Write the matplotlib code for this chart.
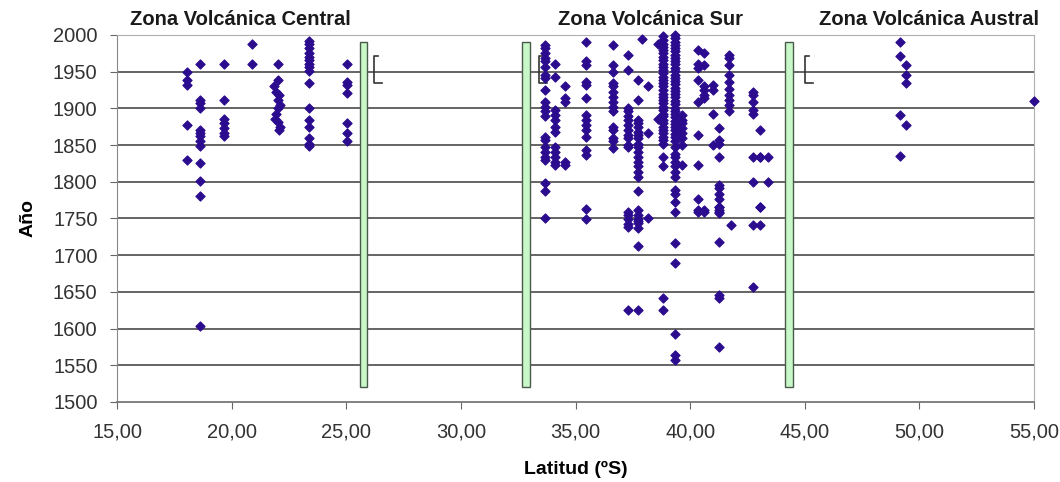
import matplotlib.pyplot as plt
import numpy as np

plt.rcParams['font.family'] = ['Liberation Sans', 'DejaVu Sans']

# Eruption records: latitude (ºS) and year
lat_central = ([18.04] * 5 + [18.62] * 13 + [19.68] * 7 + [20.87] * 2
               + [22.04, 22.04, 21.85, 21.95, 22.05, 22.0, 22.1, 22.0, 21.95, 21.9, 22.0, 22.1, 22.05]
               + [23.39] * 16 + [25.02] * 7)
year_central = ([1950, 1939, 1932, 1878, 1830]
                + [1960, 1911, 1907, 1901, 1871, 1866, 1862, 1856, 1849, 1826, 1801, 1780, 1604]
                + [1960, 1911, 1886, 1880, 1873, 1866, 1862]
                + [1988, 1960]
                + [1960, 1939, 1930, 1923, 1918, 1911, 1905, 1900, 1893, 1886, 1882, 1875, 1871]
                + [1992, 1988, 1982, 1975, 1970, 1966, 1961, 1957, 1951, 1934, 1901, 1884, 1875, 1859, 1852, 1849]
                + [1960, 1936, 1932, 1921, 1880, 1867, 1856])

lat_sur = ([33.67] * 22 + [34.11] * 12 + [34.54] * 5 + [35.45] * 15 + [36.65] * 15
           + [37.31] * 18 + [37.74] * 25 + [37.90] * 1 + [38.18] * 3
           + [38.8] * 37 + [38.6] * 2
           + [39.34] * 49 + [39.63] * 8
           + [40.36] * 10 + [40.6] * 8 + [41.0] * 4 + [41.28] * 17 + [41.71] * 10 + [41.8]
           + [42.76] * 9 + [43.05] * 6 + [43.41] * 2)
year_sur = ([1986, 1982, 1975, 1968, 1964, 1957, 1945, 1941, 1925, 1909, 1902, 1896, 1889,
             1861, 1857, 1848, 1841, 1834, 1830, 1798, 1787, 1750]
            + [1961, 1943, 1898, 1891, 1884, 1875, 1868, 1848, 1841, 1834, 1827, 1823]
            + [1930, 1914, 1909, 1827, 1823]
            + [1991, 1964, 1959, 1936, 1932, 1914, 1891, 1884, 1877, 1871, 1861, 1843, 1836, 1763, 1749]
            + [1986, 1959, 1950, 1934, 1930, 1923, 1916, 1909, 1902, 1896, 1875, 1871, 1859, 1855, 1846]
            + [1973, 1952, 1900, 1896, 1889, 1884, 1877, 1871, 1864, 1859, 1850, 1848,
               1759, 1755, 1749, 1743, 1739, 1625]
            + [1939, 1911, 1884, 1880, 1875, 1868, 1864, 1859, 1852, 1848, 1841, 1834, 1827,
               1821, 1814, 1807, 1787, 1762, 1755, 1749, 1744, 1737, 1712, 1625, 1746]
            + [1995]
            + [1930, 1866, 1750]
            + [1998, 1993, 1988, 1984, 1980, 1975, 1970, 1966, 1961, 1957, 1952, 1948, 1943,
               1939, 1934, 1930, 1925, 1920, 1916, 1911, 1907, 1902, 1898, 1893, 1889, 1884,
               1880, 1875, 1870, 1866, 1861, 1857, 1852, 1834, 1821, 1641, 1625]
            + [1988, 1886]
            + [2000, 1996, 1991, 1987, 1982, 1978, 1973, 1969, 1964, 1960, 1955, 1951, 1946,
               1942, 1937, 1933, 1928, 1924, 1919, 1915, 1910, 1906, 1901, 1897, 1892, 1888,
               1883, 1879, 1874, 1870, 1865, 1861, 1856, 1848, 1838, 1834, 1827, 1821, 1814,
               1807, 1789, 1784, 1773, 1759, 1716, 1689, 1593, 1564, 1557]
            + [1891, 1884, 1880, 1873, 1866, 1859, 1850, 1823]
            + [1980, 1961, 1955, 1939, 1909, 1864, 1823, 1777, 1762, 1759]
            + [1975, 1959, 1930, 1925, 1918, 1914, 1762, 1759]
            + [1932, 1925, 1893, 1850]
            + [1873, 1857, 1852, 1834, 1796, 1791, 1784, 1777, 1766, 1759, 1766, 1762, 1757,
               1718, 1646, 1641, 1575]
            + [1973, 1968, 1959, 1946, 1936, 1927, 1918, 1911, 1905, 1896]
            + [1741]
            + [1923, 1918, 1909, 1898, 1893, 1834, 1800, 1741, 1656]
            + [1871, 1834, 1766, 1765, 1741, 1834]
            + [1834, 1800])

lat_austral = [49.15, 49.15, 49.15, 49.15, 49.42, 49.42, 49.42, 49.42, 55.0]
year_austral = [1990, 1971, 1891, 1835, 1959, 1945, 1934, 1877, 1910]

# zone boundaries (green bars) and their brackets
bar_lat = [25.75, 32.85, 44.3]
bar_bottom = 1520
bar_top = 1990
bracket_lat = [26.2, 33.4, 45.0]

zones = ['Zona Volcánica Central', 'Zona Volcánica Sur', 'Zona Volcánica Austral']
zone_x = [20.4, 38.25, 50.4]

lat = lat_central + lat_sur + lat_austral
year = year_central + year_sur + year_austral

fig = plt.figure(figsize=(10.6, 4.82), dpi=100)
ax = fig.add_axes([0.1104, 0.166, 0.8651, 0.7614])

for y in range(1550, 2000, 50):
    ax.axhline(y, color='#3a3a3a', lw=1.1, zorder=1)

ax.bar(bar_lat, bar_top - bar_bottom, bottom=bar_bottom, width=0.33,
       color='#c8f7c8', edgecolor='#4a5a4a', lw=1, zorder=3)

for bx in bracket_lat:
    ax.plot([bx + 0.2, bx, bx, bx + 0.35], [1972, 1972, 1935, 1935],
            color='#333333', lw=1.2, zorder=3)

ax.scatter(lat, year, marker='D', s=22, color='#2b0b8e', edgecolor='#2b0b8e',
           lw=0.8, zorder=4, clip_on=False)

ax.set_xlim(15, 55)
ax.set_ylim(1500, 2000)
ax.set_xticks(np.arange(15, 56, 5))
ax.set_xticklabels([f'{v:.2f}'.replace('.', ',') for v in np.arange(15, 56, 5)])
ax.set_yticks(np.arange(1500, 2001, 50))
ax.tick_params(labelsize=14.5, colors='#333333', length=5, color='#666666')
ax.tick_params(axis='x', pad=10)
ax.tick_params(axis='y', pad=9)

for s in ax.spines.values():
    s.set_color('#b0b0b0')
ax.spines['left'].set_color('#888888')
ax.spines['bottom'].set_color('#777777')
ax.spines['bottom'].set_linewidth(1.3)

ax.set_xlabel('Latitud (ºS)', fontsize=14, fontweight='bold', labelpad=14)
ax.set_ylabel('Año', fontsize=14, fontweight='bold', labelpad=12)

for name, zx in zip(zones, zone_x):
    ax.text(zx, 2008, name, ha='center', va='bottom', fontsize=14.5,
            fontweight='bold', color='#1a1a1a')

fig.savefig('out.png', dpi=100)
